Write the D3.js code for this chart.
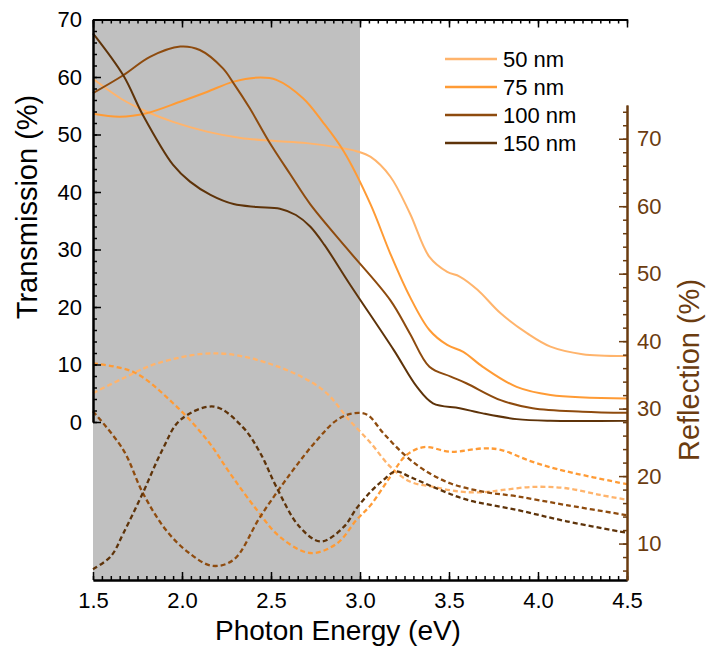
<!DOCTYPE html>
<html>
<head>
<meta charset="utf-8">
<script src="https://cdn.jsdelivr.net/npm/d3@7"></script>
<style>
  body { margin: 0; background: #fff; }
  text { font-family: Arial, "Liberation Sans", sans-serif; }
</style>
</head>
<body>
<div id="chart"></div>
<script>
const width = 707
const height = 646

// thicknesses and colours
const labels = ["50 nm", "75 nm", "100 nm", "150 nm"]
const colors = ["#ffb46c", "#ff9b35", "#8e4b0e", "#5e3309"]
const rightColor = "#6b3c10"

// transmission (%) vs photon energy (eV), left axis
const t50 = [[1.5,59.7],[1.67,56],[1.8,54],[1.95,52.2],[2.14,50.5],[2.33,49.4],[2.51,48.9],[2.7,48.5],[2.89,47.7],[2.98,47.1],[3.06,46.1],[3.17,42.7],[3.28,36.3],[3.39,28.7],[3.49,26.1],[3.56,25.3],[3.66,23.0],[3.79,18.9],[3.94,15.4],[4.07,13.1],[4.25,11.8],[4.5,11.5]]
const t75 = [[1.5,53.6],[1.65,53.1],[1.8,53.7],[1.99,55.7],[2.14,57.4],[2.29,59.2],[2.44,59.9],[2.53,59.5],[2.68,56.3],[2.79,52.2],[2.91,47.0],[3.06,37.8],[3.17,29.3],[3.28,21.8],[3.39,16],[3.49,13.4],[3.58,12.2],[3.69,9.6],[3.88,6.1],[4.07,4.7],[4.5,4.1]]
const t100 = [[1.5,57.2],[1.67,60.3],[1.82,63.5],[1.99,65.3],[2.1,64.7],[2.23,61.5],[2.29,58.9],[2.38,54.6],[2.49,48.7],[2.61,43.0],[2.72,37.9],[2.92,30.4],[3.17,21.2],[3.28,15.4],[3.39,9.6],[3.51,7.9],[3.6,6.7],[3.79,3.8],[3.97,2.4],[4.25,1.8],[4.5,1.6]]
const t150 = [[1.5,67.6],[1.67,60.3],[1.78,53.4],[1.95,44.7],[2.045,41.8],[2.16,39.5],[2.29,37.9],[2.42,37.4],[2.55,37.1],[2.64,36.0],[2.72,34.0],[2.8,30.8],[2.94,24.1],[3.19,12.5],[3.32,6.1],[3.41,3.25],[3.56,2.4],[3.69,1.5],[3.88,0.5],[4.07,0.2],[4.5,0.2]]

// reflection (%) vs photon energy (eV), right axis
const r50 = [[1.5,32.3],[1.67,34.5],[1.86,36.7],[2.19,38.2],[2.51,36.5],[2.79,32.8],[2.94,28.3],[3.06,24.9],[3.17,21.4],[3.28,19.2],[3.41,18.4],[3.56,17.7],[3.69,17.6],[3.79,17.9],[3.97,18.4],[4.16,18.2],[4.35,17.2],[4.5,16.5]]
const r75 = [[1.5,36.7],[1.73,35.4],[1.95,30.8],[2.14,25.4],[2.27,20.4],[2.42,15.0],[2.55,11.0],[2.72,8.6],[2.87,10.0],[2.98,13.5],[3.06,15.7],[3.17,19.9],[3.26,23.1],[3.36,24.3],[3.51,23.6],[3.69,24.1],[3.79,23.9],[3.97,22.1],[4.16,20.7],[4.5,18.8]]
const r100 = [[1.5,29.6],[1.67,23.9],[1.78,17.5],[1.91,12.0],[2.04,8.6],[2.17,6.7],[2.29,7.6],[2.44,14.0],[2.61,20.4],[2.76,25.4],[2.87,28.3],[2.96,29.3],[3.04,29.1],[3.13,26.4],[3.24,23.4],[3.36,20.9],[3.51,18.9],[3.69,17.7],[3.88,17.0],[4.16,15.7],[4.5,14.2]]
const r150 = [[1.5,6.2],[1.6,8.1],[1.67,11.5],[1.78,17.5],[1.89,23.9],[1.99,28.3],[2.18,30.3],[2.34,27.3],[2.44,23.4],[2.53,18.4],[2.66,12.5],[2.78,10.3],[2.91,12.5],[2.98,15.2],[3.06,17.7],[3.13,19.4],[3.2,20.7],[3.28,19.9],[3.41,18.4],[3.6,16.5],[3.88,15],[4.16,13.3],[4.5,11.6]]

const transmission = [t50, t75, t100, t150]
const reflection = [r50, r75, r100, r150]

const x = d3.scaleLinear().domain([1.5, 4.5]).range([93, 627])
const yL = d3.scaleLinear().domain([0, 70]).range([422, 19.5])
const yR = d3.scaleLinear().domain([4.6, 75]).range([580, 105])
const plotTop = 19.5, plotBottom = 580

const svg = d3.select("#chart").append("svg")
    .attr("width", width)
    .attr("height", height)

// shaded region 1.5 - 3.0 eV
svg.append("rect")
    .attr("x", x(1.5))
    .attr("y", plotTop)
    .attr("width", x(3.0) - x(1.5))
    .attr("height", plotBottom - plotTop)
    .attr("fill", "#c0c0c0")

const curve = d3.curveCatmullRom.alpha(0.5)
const lineL = d3.line().x(d => x(d[0])).y(d => yL(d[1])).curve(curve)
const lineR = d3.line().x(d => x(d[0])).y(d => yR(d[1])).curve(curve)

svg.selectAll(".refl")
    .data(reflection)
    .join("path")
    .attr("class", "refl")
    .attr("d", lineR)
    .attr("fill", "none")
    .attr("stroke", (d, i) => colors[i])
    .attr("stroke-width", 2.3)
    .attr("stroke-dasharray", "5,3")

svg.selectAll(".trans")
    .data(transmission)
    .join("path")
    .attr("class", "trans")
    .attr("d", lineL)
    .attr("fill", "none")
    .attr("stroke", (d, i) => colors[i])
    .attr("stroke-width", 2)

// axes, ticks pointing inwards
const styleAxis = (g, color) => {
    g.select(".domain").attr("stroke", color).attr("stroke-width", 2)
    g.selectAll(".tick line").attr("stroke", color).attr("stroke-width", 1.5)
    g.selectAll(".tick text").attr("fill", color).attr("font-size", 22)
}

const xMajor = d3.range(1.5, 4.51, 0.5)
const xMinor = d3.range(1.5, 4.501, 0.05)

svg.append("g")
    .attr("transform", `translate(0,${plotBottom})`)
    .call(d3.axisBottom(x).tickValues(xMinor).tickSize(-4).tickSizeOuter(0).tickFormat(""))
    .call(g => styleAxis(g, "#000"))
svg.append("g")
    .attr("transform", `translate(0,${plotBottom})`)
    .call(d3.axisBottom(x).tickValues(xMajor).tickSize(-8).tickSizeOuter(0).tickPadding(12).tickFormat(d3.format(".1f")))
    .call(g => styleAxis(g, "#000"))

svg.append("g")
    .attr("transform", `translate(0,${plotTop})`)
    .call(d3.axisTop(x).tickValues(xMinor).tickSize(-4).tickSizeOuter(0).tickFormat(""))
    .call(g => styleAxis(g, "#000"))
svg.append("g")
    .attr("transform", `translate(0,${plotTop})`)
    .call(d3.axisTop(x).tickValues(xMajor).tickSize(-8).tickSizeOuter(0).tickFormat(""))
    .call(g => styleAxis(g, "#000"))

svg.append("g")
    .attr("transform", `translate(${x(1.5)},0)`)
    .call(d3.axisLeft(yL).tickValues(d3.range(0, 70.1, 2)).tickSize(-4).tickSizeOuter(0).tickFormat(""))
    .call(g => styleAxis(g, "#000"))
svg.append("g")
    .attr("transform", `translate(${x(1.5)},0)`)
    .call(d3.axisLeft(yL).tickValues(d3.range(0, 70.1, 10)).tickSize(-8).tickSizeOuter(0).tickPadding(11))
    .call(g => styleAxis(g, "#000"))

svg.append("g")
    .attr("transform", `translate(${x(4.5)},0)`)
    .call(d3.axisRight(yR).tickValues(d3.range(6, 75, 2)).tickSize(-4).tickSizeOuter(0).tickFormat(""))
    .call(g => styleAxis(g, rightColor))
svg.append("g")
    .attr("transform", `translate(${x(4.5)},0)`)
    .call(d3.axisRight(yR).tickValues(d3.range(10, 71, 10)).tickSize(-8).tickSizeOuter(0).tickPadding(10))
    .call(g => styleAxis(g, rightColor))

// axis titles
svg.append("text")
    .attr("x", 338)
    .attr("y", 640)
    .attr("text-anchor", "middle")
    .attr("font-size", 28)
    .text("Photon Energy (eV)")

svg.append("text")
    .attr("transform", "translate(37,207) rotate(-90)")
    .attr("text-anchor", "middle")
    .attr("font-size", 29)
    .text("Transmission (%)")

svg.append("text")
    .attr("transform", "translate(699,370) rotate(-90)")
    .attr("text-anchor", "middle")
    .attr("font-size", 29)
    .attr("fill", rightColor)
    .text("Reflection (%)")

// legend
const legend = svg.append("g")
    .selectAll("g")
    .data(labels)
    .join("g")
    .attr("transform", (d, i) => `translate(445,${59 + i * 28})`)
legend.append("line")
    .attr("x1", 0).attr("x2", 52)
    .attr("stroke", (d, i) => colors[i])
    .attr("stroke-width", 2.5)
legend.append("text")
    .attr("x", 58)
    .attr("dy", "0.36em")
    .attr("font-size", 22)
    .text(d => d)
</script>
</body>
</html>
